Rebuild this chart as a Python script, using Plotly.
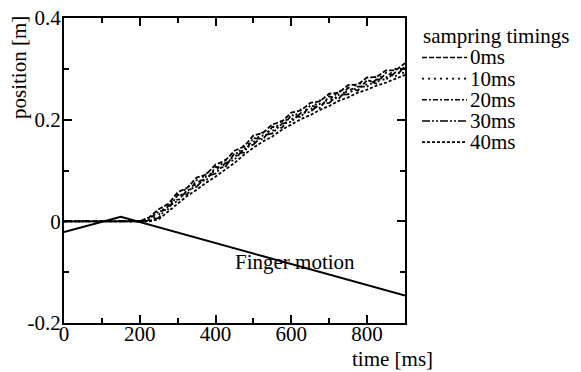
import plotly.graph_objects as go

# ---- data ----
time_ms = [0, 200, 225, 250, 275, 300, 325, 350, 375, 400, 425, 450, 475, 500,
           525, 550, 575, 600, 625, 650, 675, 700, 725, 750, 775, 800, 825,
           850, 875, 900]
pos_0ms = [0, 0, 0.008, 0.024, 0.034, 0.057, 0.066, 0.086, 0.092, 0.112, 0.119,
           0.139, 0.147, 0.169, 0.174, 0.191, 0.196, 0.214, 0.218, 0.233, 0.236,
           0.251, 0.253, 0.268, 0.269, 0.283, 0.284, 0.297, 0.297, 0.311]
pos_10ms = [0, 0, 0.003, 0.013, 0.036, 0.043, 0.068, 0.072, 0.095, 0.098, 0.121,
            0.125, 0.150, 0.155, 0.176, 0.177, 0.199, 0.200, 0.220, 0.219, 0.238,
            0.237, 0.256, 0.254, 0.272, 0.269, 0.286, 0.283, 0.300, 0.296]
pos_20ms = [0, 0, 0.005, 0.019, 0.024, 0.052, 0.053, 0.081, 0.080, 0.107, 0.106,
            0.134, 0.135, 0.164, 0.161, 0.186, 0.184, 0.209, 0.205, 0.228, 0.223,
            0.246, 0.241, 0.263, 0.257, 0.278, 0.271, 0.292, 0.285, 0.305]
pos_30ms = [0, 0, 0.001, 0.007, 0.030, 0.040, 0.061, 0.068, 0.088, 0.094, 0.114,
            0.121, 0.143, 0.151, 0.169, 0.173, 0.192, 0.196, 0.213, 0.215, 0.231,
            0.233, 0.249, 0.250, 0.265, 0.265, 0.279, 0.279, 0.293, 0.292]
pos_40ms = [0, 0, 0.000, 0.004, 0.019, 0.034, 0.050, 0.062, 0.076, 0.088, 0.102,
            0.115, 0.131, 0.145, 0.157, 0.167, 0.180, 0.190, 0.201, 0.209, 0.219,
            0.227, 0.237, 0.244, 0.253, 0.259, 0.267, 0.273, 0.281, 0.288]

finger_time = [0, 150, 900]
finger_pos = [-0.021, 0.009, -0.146]

series_names = ["0ms", "10ms", "20ms", "30ms", "40ms"]
series_vals = [pos_0ms, pos_10ms, pos_20ms, pos_30ms, pos_40ms]
dashes = ["5px,2px", "2px,4px", "5px,2px,2px,2px", "8px,2px,2px,2px,2px,2px", "3px,2px"]

x_ticks = [0, 200, 400, 600, 800]
y_ticks = [-0.2, 0, 0.2, 0.4]
y_tick_text = ["-0.2", "0", "0.2", "0.4"]

FONT = "Liberation Serif"
FS = 21

W, H = 581, 372
L, R, T, B = 64, 176, 6, 49
PW, PH = W - L - R, H - T - B


def px(xp):
    return (xp - L) / PW


def py(yp):
    return (H - B - yp) / PH


fig = go.Figure()
for name, vals, d in zip(series_names, series_vals, dashes):
    fig.add_trace(go.Scatter(x=time_ms, y=vals, mode="lines", name=name,
                             line=dict(color="black", width=1.8, dash=d),
                             showlegend=False))
fig.add_trace(go.Scatter(x=finger_time, y=finger_pos, mode="lines",
                         name="Finger motion", line=dict(color="black", width=2),
                         showlegend=False))

axis_common = dict(showline=True, linecolor="black", linewidth=2, mirror="ticks",
                   ticks="inside", ticklen=8, tickwidth=1.5, tickcolor="black",
                   showgrid=False, zeroline=False, ticklabeloverflow="allow",
                   tickfont=dict(family=FONT, size=FS, color="black"),
                   minor=dict(ticks="inside", ticklen=5, tickwidth=1.5,
                              tickcolor="black", showgrid=False))

fig.update_xaxes(range=[0, 900], tickvals=x_ticks, minor_dtick=100,
                 ticklabelstandoff=-9, **axis_common)
fig.update_yaxes(range=[-0.2, 0.4], tickvals=y_ticks, ticktext=y_tick_text,
                 minor_dtick=0.1, ticklabelstandoff=-3, **axis_common)

annotations = [
    dict(text="Finger motion", x=px(295), y=py(260), xref="paper", yref="paper",
         showarrow=False, xanchor="center", yanchor="middle"),
    dict(text="time [ms]", x=px(392), y=py(360), xref="paper", yref="paper",
         showarrow=False, xanchor="center", yanchor="middle"),
    dict(text="position [m]", x=px(19), y=py(58), xref="paper", yref="paper",
         showarrow=False, xanchor="center", yanchor="middle", textangle=-90),
    dict(text="sampring timings", x=px(421), y=py(25), xref="paper", yref="paper",
         showarrow=False, xanchor="left", yanchor="middle"),
]
shapes = []
leg_y = [47, 69, 91, 113, 135]
for name, d, yy in zip(series_names, dashes, leg_y):
    shapes.append(dict(type="line", xref="paper", yref="paper",
                       x0=px(422), x1=px(467), y0=py(yy), y1=py(yy),
                       line=dict(color="black", width=1.6, dash=d)))
    annotations.append(dict(text=name, x=px(468), y=py(yy), xref="paper",
                            yref="paper", showarrow=False, xanchor="left",
                            yanchor="middle"))

fig.update_layout(width=W, height=H, margin=dict(l=L, r=R, t=T, b=B),
                  paper_bgcolor="white", plot_bgcolor="white",
                  font=dict(family=FONT, size=FS, color="black"),
                  annotations=annotations, shapes=shapes)

fig.write_html("out.html", config={"displayModeBar": False},
               post_script="document.body.style.margin='0';document.body.style.padding='0';")
